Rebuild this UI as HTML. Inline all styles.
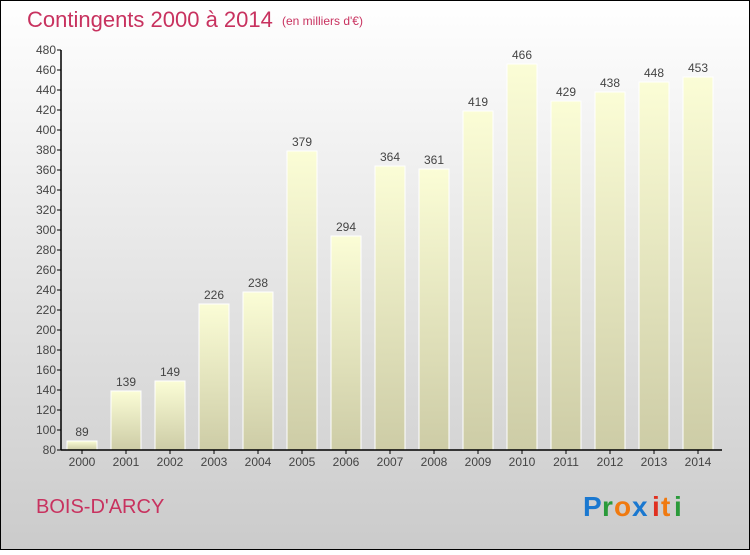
<!DOCTYPE html>
<html><head><meta charset="utf-8"><style>
body{margin:0}
#c{width:750px;height:550px;position:relative;font-family:"Liberation Sans",sans-serif}
</style></head><body>
<div id="c">
<svg width="750" height="550" xmlns="http://www.w3.org/2000/svg" id="svg">
<defs>
<linearGradient id="bg" x1="0" y1="0" x2="0" y2="1"><stop offset="0" stop-color="#ffffff"/><stop offset="1" stop-color="#cbcbcb"/></linearGradient>
<linearGradient id="bar" x1="0" y1="0" x2="0" y2="1"><stop offset="0" stop-color="#fbfdd6"/><stop offset="1" stop-color="#cdcca6"/></linearGradient>
</defs>
<rect x="0.5" y="0.5" width="749" height="549" fill="url(#bg)" stroke="#000"/>
<text x="27" y="27" font-size="22" fill="#c8325f">Contingents 2000 à 2014</text>
<text x="282" y="25" font-size="12" fill="#c8325f">(en milliers d'€)</text>
<text x="36" y="513" font-size="20" fill="#c8325f">BOIS-D'ARCY</text>
<g font-size="28" font-weight="bold" font-family="'Liberation Sans',sans-serif">
<text x="583" y="516" fill="#1a78d0">P</text><text x="602" y="516" fill="#2a9a3a">r</text><text x="614" y="516" fill="#f07a10">o</text><text x="632" y="516" fill="#1a78d0">x</text><text x="652" y="516" fill="#e03020">i</text><text x="661" y="516" fill="#f07a10">t</text><text x="674" y="516" fill="#2a9a3a">i</text>
</g>
<g id="plot"></g>
</svg>
</div>
<script>
const categories=["2000","2001","2002","2003","2004","2005","2006","2007","2008","2009","2010","2011","2012","2013","2014"];
const values=[89,139,149,226,238,379,294,364,361,419,466,429,438,448,453];
const yTicks=[80,100,120,140,160,180,200,220,240,260,280,300,320,340,360,380,400,420,440,460,480];
const NS="http://www.w3.org/2000/svg";
const g=document.getElementById('plot');
const y=v=>450-(v-80)*(400/400);
const x=i=>67+i*44;
function mk(t,a){const e=document.createElementNS(NS,t);for(const k in a)e.setAttribute(k,a[k]);g.appendChild(e);return e;}
values.forEach((v,i)=>{
  const r=mk('rect',{x:x(i),y:y(v),width:30,height:450-y(v),fill:'url(#bar)',stroke:'#fff','stroke-width':1});
  
  
  const t=mk('text',{x:x(i)+15,y:y(v)-5,'font-size':12,fill:'#444','text-anchor':'middle'});
  t.textContent=v;
  
  
  const c=mk('text',{x:x(i)+15,y:466,'font-size':12,fill:'#444','text-anchor':'middle'});
  c.textContent=categories[i];
  
  
  const tk=mk('line',{x1:x(i)+15,x2:x(i)+15,y1:450,y2:454,stroke:'#000'});
  
  
});
yTicks.forEach(v=>{
  const l=mk('line',{x1:57,x2:61,y1:y(v),y2:y(v),stroke:'#000'});
  
  
  const t=mk('text',{x:56,y:y(v)+4,'font-size':12,fill:'#444','text-anchor':'end'});
  t.textContent=v;
  
  
});
const ya=mk('line',{x1:61,x2:61,y1:50,y2:450,stroke:'#000','stroke-width':1.5});


const xa=mk('line',{x1:61,x2:722,y1:450,y2:450,stroke:'#000','stroke-width':1.5});


</script>
</body></html>
